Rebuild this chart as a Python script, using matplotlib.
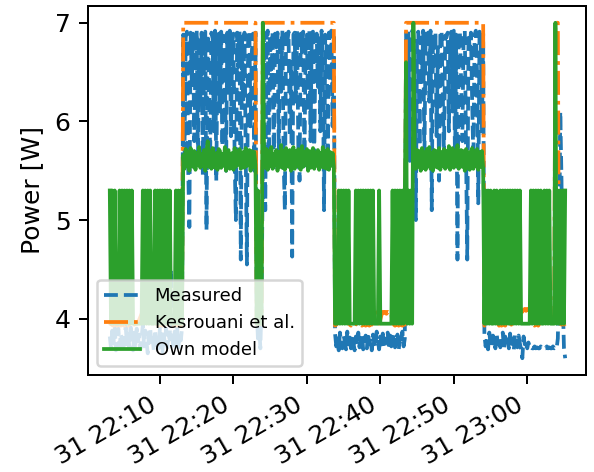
import numpy as np
import pandas as pd
import matplotlib
matplotlib.use('Agg')
import matplotlib.pyplot as plt
import matplotlib.dates as mdates

# samples every 10 s starting 22:03:10, split by operating phase
# measured power [W]
meas_low1 = [3.82, 3.70, 3.88, 3.75, 3.93, 3.68, 3.80, 3.90, 3.72, 3.85,
             3.78, 3.66, 3.83, 3.92, 3.74, 3.87, 3.70, 3.95, 3.79, 3.68,
             3.86, 3.73, 3.90, 3.77, 3.84, 3.69, 3.81, 3.94, 3.72, 3.88,
             3.76, 3.65, 3.85, 3.91, 3.73, 3.80, 3.67, 3.89, 3.75, 3.83,
             3.70, 3.92, 3.78, 3.66, 3.86, 3.74, 3.90, 3.71, 3.84, 3.79,
             4.50, 3.82, 3.69, 3.87, 3.76, 3.93, 3.71, 3.85, 3.78, 3.90]
meas_high1 = [6.88, 5.70, 6.85, 6.91, 5.55, 4.93, 6.90, 6.40, 6.89, 5.80,
              6.70, 6.92, 5.60, 6.86, 6.20, 6.90, 5.45, 6.80, 6.91, 4.90,
              6.88, 6.50, 5.65, 6.90, 6.84, 5.90, 6.92, 5.40, 6.75, 6.89,
              6.10, 6.91, 5.75, 6.87, 6.60, 5.50, 6.90, 6.30, 6.92, 5.85,
              6.80, 6.89, 5.60, 5.00, 6.90, 6.55, 6.91, 4.60, 6.86, 6.20,
              6.90, 5.70, 4.55, 6.88, 6.92, 5.95, 6.70, 6.89, 5.50, 6.90]
meas_trans = [4.10, 3.80, 3.95, 3.70, 4.20, 5.60]
meas_high2 = [6.90, 5.10, 6.85, 6.92, 5.65, 6.88, 6.40, 6.91, 5.50, 6.89,
              6.75, 6.90, 5.70, 6.86, 6.30, 6.92, 5.60, 5.10, 6.89, 6.80,
              6.91, 5.85, 6.60, 4.63, 6.88, 6.90, 6.20, 6.92, 5.75, 5.40,
              6.89, 6.70, 6.91, 5.55, 6.85, 6.88, 6.10, 6.92, 5.80, 6.90,
              6.91, 5.65, 6.75, 6.89, 6.35, 6.87, 5.90, 6.92, 6.60, 5.10,
              6.88, 6.85, 5.70, 6.90, 6.40, 6.92, 5.95, 6.89]
meas_low2 = [3.85, 3.72, 3.80, 3.68, 3.86, 3.75, 3.70, 3.83, 3.77, 3.69,
             3.87, 3.74, 3.81, 3.70, 3.84, 3.76, 3.68, 3.82, 3.73, 3.86,
             3.71, 3.79, 3.85, 3.69, 3.77, 3.83, 3.70, 3.86, 3.74, 3.80,
             3.68, 3.84, 3.75, 3.71, 3.87, 3.78, 3.69, 3.82, 3.74, 3.85,
             3.70, 3.80, 3.76, 3.86, 3.69, 3.83, 3.72, 3.79, 3.85, 3.71,
             3.77, 3.84, 3.68, 3.81, 3.75, 3.87, 3.72, 3.80, 6.90, 5.90,
             6.91, 5.60, 6.85, 6.92]
meas_high3 = [6.89, 6.70, 5.00, 6.88, 6.91, 5.75, 6.85, 6.40, 6.92, 5.60,
              6.89, 6.80, 6.90, 6.20, 6.92, 5.10, 6.88, 6.60, 6.91, 5.85,
              6.75, 5.40, 6.89, 6.92, 6.30, 5.65, 6.87, 6.85, 6.90, 5.90,
              6.70, 6.91, 6.10, 6.92, 5.55, 6.88, 4.60, 6.89, 6.91, 6.40,
              5.80, 6.87, 6.92, 5.70, 4.60, 6.89, 6.75, 6.90, 6.20, 5.60,
              6.88, 6.92, 6.50, 5.17, 6.91, 6.85, 5.90, 6.89]
meas_low3 = [3.84, 3.72, 3.80, 3.69, 3.86, 3.75, 3.71, 3.83, 3.77, 3.70,
             3.85, 3.74, 3.81, 3.71, 3.78, 3.86, 3.69, 3.82, 3.74, 3.79,
             3.70, 3.85, 3.73, 3.80, 3.68, 3.84, 3.76, 3.71, 3.83, 3.75,
             3.69, 3.60, 3.82, 3.74, 3.78, 3.70, 3.76, 3.70, 3.71, 3.70,
             3.70, 3.72, 3.70, 3.71, 3.70, 3.70, 3.72, 3.70, 3.71, 3.70,
             3.70, 3.72, 3.70, 3.71, 3.70, 3.70, 3.72, 3.70]
meas_end = [3.71, 3.70, 3.80, 4.60, 6.10, 5.40, 4.20, 3.70, 3.60]

# Kesrouani et al. model
kes_low1 = [3.93, 3.95, 3.94, 3.93, 3.96, 3.94, 3.93, 3.95, 3.94, 3.93,
            3.95, 3.94, 3.93, 3.96, 3.94, 3.93, 3.95, 3.94, 3.93, 3.95,
            3.94, 3.96, 3.95, 3.97, 3.99, 4.02, 4.05, 4.08, 4.12, 4.15,
            4.17, 4.18, 4.16, 4.12, 4.08, 4.04, 4.00, 3.97, 3.95, 3.94,
            3.93, 3.95, 3.94, 3.93, 3.96, 3.94, 3.93, 3.95, 3.94, 3.93,
            3.95, 3.94, 3.93, 3.96, 3.94, 3.93, 3.95, 3.94, 3.93, 3.95]
kes_high1 = [7.0, 7.0, 7.0, 7.0, 7.0, 7.0, 7.0, 7.0, 7.0, 7.0,
             7.0, 7.0, 7.0, 7.0, 7.0, 7.0, 7.0, 7.0, 7.0, 7.0,
             7.0, 7.0, 7.0, 7.0, 7.0, 7.0, 7.0, 7.0, 7.0, 7.0,
             7.0, 7.0, 7.0, 7.0, 7.0, 7.0, 7.0, 7.0, 7.0, 7.0,
             7.0, 7.0, 7.0, 7.0, 7.0, 7.0, 7.0, 7.0, 7.0, 7.0,
             7.0, 7.0, 7.0, 7.0, 7.0, 7.0, 7.0, 7.0, 7.0, 7.0]
kes_trans = [3.95, 3.95, 3.95, 3.95, 3.95, 7.0]
kes_high2 = [7.0, 7.0, 7.0, 7.0, 7.0, 7.0, 7.0, 7.0, 7.0, 7.0,
             7.0, 7.0, 7.0, 7.0, 7.0, 7.0, 7.0, 7.0, 7.0, 7.0,
             7.0, 7.0, 7.0, 7.0, 7.0, 7.0, 7.0, 7.0, 7.0, 7.0,
             7.0, 7.0, 7.0, 7.0, 7.0, 7.0, 7.0, 7.0, 7.0, 7.0,
             7.0, 7.0, 7.0, 7.0, 7.0, 7.0, 7.0, 7.0, 7.0, 7.0,
             7.0, 7.0, 7.0, 7.0, 7.0, 7.0, 7.0, 7.0]
kes_low2 = [3.93, 3.94, 3.96, 4.02, 4.08, 4.12, 4.14, 4.13, 4.10, 4.06,
            4.02, 3.97, 3.94, 3.93, 3.95, 3.94, 3.93, 3.95, 3.94, 3.93,
            3.95, 3.94, 3.93, 3.95, 3.94, 3.93, 3.95, 3.94, 3.93, 3.95,
            3.94, 3.96, 4.04, 4.08, 4.06, 3.97, 3.95, 3.99, 4.04, 4.07,
            4.06, 4.07, 4.05, 4.07, 4.06, 4.07, 4.04, 3.97, 3.94, 3.93,
            3.95, 3.94, 3.93, 3.95, 3.94, 3.93, 3.95, 3.94, 7.0, 7.0,
            7.0, 7.0, 7.0, 7.0]
kes_high3 = [7.0, 7.0, 7.0, 7.0, 7.0, 7.0, 7.0, 7.0, 7.0, 7.0,
             7.0, 7.0, 7.0, 7.0, 7.0, 7.0, 7.0, 7.0, 7.0, 7.0,
             7.0, 7.0, 7.0, 7.0, 7.0, 7.0, 7.0, 7.0, 7.0, 7.0,
             7.0, 7.0, 7.0, 7.0, 7.0, 7.0, 7.0, 7.0, 7.0, 7.0,
             7.0, 7.0, 7.0, 7.0, 7.0, 7.0, 7.0, 7.0, 7.0, 7.0,
             7.0, 7.0, 7.0, 7.0, 7.0, 7.0, 7.0, 7.0]
kes_low3 = [3.93, 3.94, 3.95, 3.97, 4.01, 4.04, 4.05, 4.04, 4.05, 4.03,
            3.98, 3.95, 3.93, 3.94, 3.93, 3.95, 3.94, 3.93, 3.95, 3.94,
            3.93, 3.95, 3.94, 3.96, 4.01, 4.04, 4.05, 4.06, 4.05, 4.07,
            4.08, 4.07, 4.09, 4.10, 4.08, 4.10, 4.09, 4.06, 4.01, 3.96,
            3.94, 3.93, 3.95, 3.94, 3.93, 3.95, 3.96, 4.02, 4.07, 4.10,
            4.09, 4.10, 4.08, 4.10, 4.09, 4.06, 4.00, 3.96]
kes_end = [7.0, 7.0, 7.0, 4.00, 3.95, 3.94, 3.95, 3.94, 3.95]

# own model
own_low1 = [5.30, 3.95, 5.30, 3.95, 5.30, 3.95, 3.95, 3.95, 5.30, 3.95,
            5.30, 3.95, 5.30, 3.95, 5.30, 3.95, 5.30, 3.95, 5.30, 3.95,
            3.95, 3.95, 3.95, 3.95, 3.95, 3.95, 3.95, 5.30, 3.95, 5.30,
            3.95, 5.30, 3.95, 5.30, 3.95, 3.95, 3.95, 5.30, 3.95, 5.30,
            3.95, 5.30, 3.95, 5.30, 3.95, 5.30, 3.95, 5.30, 3.95, 5.30,
            3.95, 3.95, 3.95, 3.95, 5.30, 3.95, 5.30, 3.95, 5.30, 3.95]
own_high1 = [5.66, 5.52, 5.72, 5.55, 5.69, 5.50, 5.73, 5.57, 5.54, 5.70,
             5.51, 5.68, 5.56, 5.74, 5.53, 5.67, 5.55, 5.71, 5.50, 5.69,
             5.80, 5.54, 5.70, 5.52, 5.73, 5.56, 5.53, 5.68, 5.51, 5.72,
             5.70, 5.53, 5.67, 5.55, 5.74, 5.50, 5.69, 5.71, 5.52, 5.66,
             5.68, 5.51, 5.73, 5.54, 5.70, 5.56, 5.72, 5.52, 5.67, 5.69,
             5.53, 5.73, 5.55, 5.68, 5.71, 5.50, 5.70, 5.54, 5.69, 5.56]
own_trans = [3.95, 5.30, 3.95, 3.95, 3.95, 7.00]
own_high2 = [5.68, 5.53, 5.72, 5.51, 5.70, 5.55, 5.74, 5.52, 5.67, 5.56,
             5.71, 5.50, 5.69, 5.54, 5.76, 5.53, 5.70, 5.51, 5.73, 5.56,
             5.54, 5.71, 5.50, 5.68, 5.74, 5.52, 5.70, 5.55, 5.72, 5.53,
             5.51, 5.75, 5.54, 5.69, 5.56, 5.72, 5.50, 5.70, 5.53, 5.67,
             5.73, 5.52, 5.69, 5.55, 5.71, 5.51, 5.68, 5.54, 5.74, 5.53,
             5.70, 5.52, 5.72, 5.51, 5.69, 5.55, 5.68, 5.54]
own_low2 = [3.95, 3.95, 3.95, 5.30, 3.95, 5.30, 3.95, 5.30, 3.95, 5.30,
            3.95, 5.30, 3.95, 3.95, 3.95, 3.95, 3.95, 5.30, 3.95, 5.30,
            3.95, 5.30, 3.95, 5.30, 3.95, 5.30, 3.95, 5.30, 3.95, 5.30,
            3.95, 5.30, 3.95, 3.95, 3.95, 3.95, 5.30, 3.95, 3.95, 3.95,
            3.95, 3.95, 3.95, 3.95, 3.95, 3.95, 3.95, 5.30, 3.95, 5.30,
            3.95, 5.30, 3.95, 5.30, 3.95, 5.30, 3.95, 5.30, 6.60, 3.95,
            5.30, 3.95, 5.30, 3.95]
own_high3 = [7.00, 5.66, 5.52, 5.71, 5.54, 5.70, 5.50, 5.73, 5.53, 5.69,
             5.51, 5.72, 5.55, 5.74, 5.52, 5.68, 5.50, 5.71, 5.54, 5.70,
             5.53, 5.73, 5.51, 5.69, 5.55, 5.72, 5.52, 5.70, 5.54, 5.75,
             5.51, 5.68, 5.73, 5.53, 5.70, 5.55, 5.76, 5.52, 5.69, 5.71,
             5.54, 5.70, 5.50, 5.72, 5.53, 5.69, 5.51, 5.68, 5.73, 5.52,
             5.70, 5.55, 5.72, 5.51, 5.69, 5.54, 5.70, 5.53]
own_low3 = [3.95, 5.30, 3.95, 5.30, 3.95, 5.30, 3.95, 3.95, 5.30, 3.95,
            5.30, 3.95, 3.95, 5.30, 3.95, 5.30, 3.95, 5.30, 3.95, 5.30,
            3.95, 5.30, 3.95, 5.30, 3.95, 5.30, 3.95, 5.30, 3.95, 5.30,
            3.95, 3.95, 3.95, 3.95, 3.95, 3.95, 3.95, 3.95, 5.30, 3.95,
            5.30, 3.95, 5.30, 3.95, 5.30, 3.95, 5.30, 3.95, 3.95, 5.30,
            3.95, 5.30, 3.95, 5.30, 3.95, 3.95, 3.95, 3.95]
own_end = [7.00, 3.95, 5.30, 3.95, 5.30, 3.95, 5.30, 3.95, 5.30]

measured = (meas_low1 + meas_high1 + meas_trans + meas_high2 + meas_low2
            + meas_high3 + meas_low3 + meas_end)
kesrouani = (kes_low1 + kes_high1 + kes_trans + kes_high2 + kes_low2
             + kes_high3 + kes_low3 + kes_end)
own = (own_low1 + own_high1 + own_trans + own_high2 + own_low2
       + own_high3 + own_low3 + own_end)

time = pd.date_range('2021-08-31 22:03:10', periods=len(measured), freq='10s')

fig, ax = plt.subplots(figsize=(3.3, 472 / 180), dpi=180)
plt.subplots_adjust(left=88 / 594, right=586 / 594, top=1 - 6 / 472, bottom=1 - 375 / 472)

ax.plot(time, measured, '--', label='Measured')
ax.plot(time, kesrouani, '-.', label='Kesrouani et al.')
ax.plot(time, own, '-', label='Own model')

ax.set_ylabel('Power [W]')
ax.set_ylim(3.43, 7.17)
ax.set_xlim(pd.Timestamp('2021-08-31 22:00:12'), pd.Timestamp('2021-08-31 23:08:00'))
ax.xaxis.set_major_locator(mdates.MinuteLocator(byminute=range(0, 60, 10)))
ax.xaxis.set_major_formatter(mdates.DateFormatter('%d %H:%M'))
plt.setp(ax.get_xticklabels(), rotation=30, ha='right')
ax.legend(loc='lower left', fontsize=7.2)

plt.savefig('out.png', dpi=180)
